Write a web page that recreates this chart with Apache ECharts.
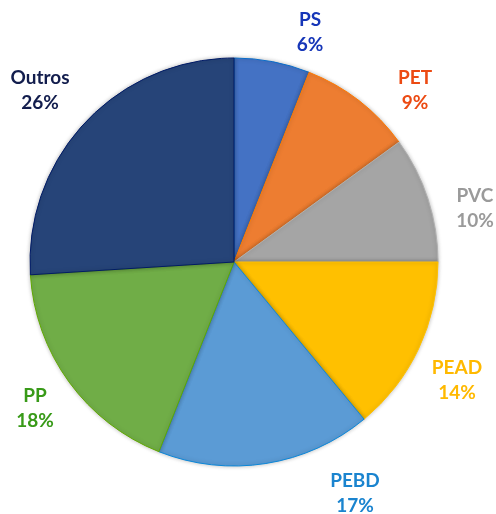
<!DOCTYPE html>
<html lang="pt">
<head>
	<meta charset="UTF-8">
	<title>Plásticos</title>
	<script src="https://cdn.jsdelivr.net/npm/echarts@6/dist/echarts.min.js"></script>
	<style>
		html,body{margin:0;width:100%;height:100%;background:#fff;}
		#chart{width:496px;height:514px;}
	</style>
</head>
<body>
	<div id="chart"></div>
<script>
	// dados do gráfico
	var categorias = ['PS', 'PET', 'PVC', 'PEAD', 'PEBD', 'PP', 'Outros'];
	var valores = [6, 9, 10, 14, 17, 18, 26];

	var corFatia = ['#4472C4', '#ED7D31', '#A5A5A5', '#FFC000', '#5B9BD5', '#70AD47', '#264478'];
	var corBorda = ['#0A6CC8', '#FF7A00', '#B0B0B0', '#FFC000', '#0A86D8', '#5FA800', '#001A66'];
	var corTexto = ['#1636B8', '#EC4A12', '#9A9A9A', '#FFB900', '#1A84CF', '#389A18', '#121D4D'];
	// posição dos rótulos (centro do texto)
	var posRotulo = [[310, 32], [415, 90], [475, 208], [457, 380], [355, 493], [35, 408], [40, 90]];

	var dados = [];
	for (var i = 0; i < categorias.length; i++) {
		dados.push({
			name: categorias[i],
			value: valores[i],
			itemStyle: {color: corFatia[i], borderColor: corBorda[i]},
			label: {color: corTexto[i]}
		});
	}

	var myChart = echarts.init(document.getElementById('chart'));
	myChart.setOption({
		animation: false,
		series: [{
			type: 'pie',
			center: [234, 262],
			radius: 204,
			startAngle: 90,
			clockwise: true,
			avoidLabelOverlap: false,
			itemStyle: {
				borderWidth: 1,
				shadowBlur: 4,
				shadowColor: 'rgba(0,0,0,0.25)'
			},
			label: {
				show: true,
				position: 'outside',
				formatter: '{b}\n{c}%',
				fontFamily: 'Lato',
				fontWeight: 'bold',
				fontSize: 19,
				lineHeight: 25,
				align: 'center'
			},
			labelLine: {show: false},
			labelLayout: function (p) {
				var pos = posRotulo[p.dataIndex];
				return {x: pos[0], y: pos[1], align: 'center', verticalAlign: 'middle'};
			},
			emphasis: {disabled: true},
			data: dados
		}]
	});
</script>
</body>
</html>
